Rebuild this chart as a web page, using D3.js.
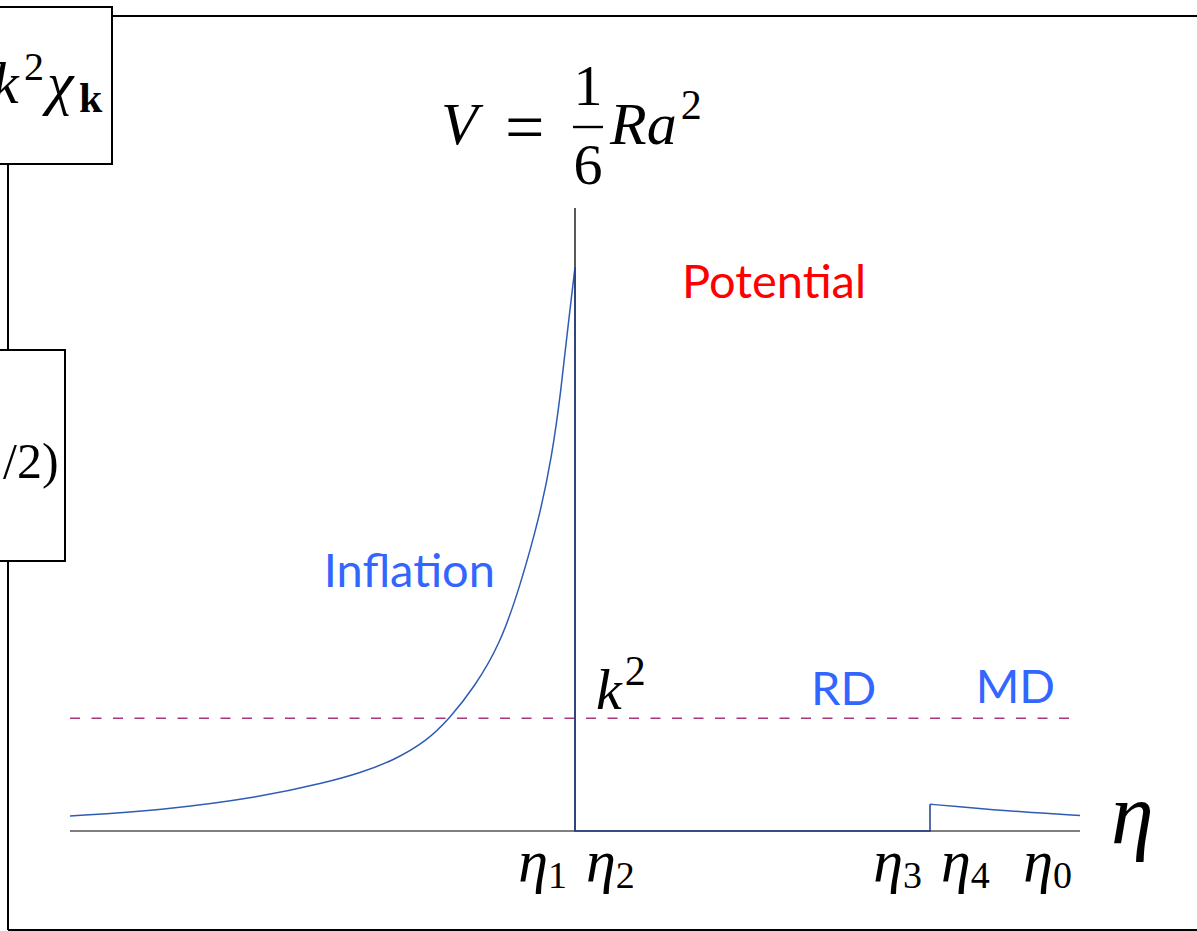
<!DOCTYPE html>
<html>
<head>
<meta charset="utf-8">
<script src="https://cdn.jsdelivr.net/npm/d3@7"></script>
<style>
  html, body { margin: 0; padding: 0; background: #fff; }
  svg { display: block; }
</style>
</head>
<body>
<svg id="chart" width="1197" height="931"></svg>
<script>
// Effective potential felt by the mode, through inflation, radiation (RD) and matter (MD) eras.
// Conformal time eta on the horizontal axis, potential on the vertical axis.

// Inflation branch: rises steeply towards eta_1
const etaInflation = [0, 8.9, 18.8, 25.4, 28.7, 32, 35.3, 37.6, 40, 42.6, 44.6, 46.5, 47.7, 48.6, 49.3, 50];
const potInflation = [2.4, 3.3, 5.4, 7.8, 9.3, 11.3, 14.4, 18.1, 23, 30, 39.5, 50.5, 60, 70.5, 81, 90.5];

// Radiation era: the potential vanishes between eta_2 and eta_3
const etaRadiation = [50, 50, 85.15, 85.15];
const potRadiation = [90.5, 0, 0, 4.3];

// Matter era: small decaying potential from eta_4 to eta_0
const etaMatter = [85.15, 88, 91.4, 95, 100];
const potMatter = [4.3, 3.9, 3.4, 3.0, 2.5];

// Wavenumber level k^2
const kSquared = 18.1;

// Axis extent and time markers
const etaDomain = [0, 100];
const potDomain = [0, 100];
const tickNames = ["1", "2", "3", "4", "0"];
const tickEta = [50, 50, 85.15, 85.15, 100];
const tickSide = ["left", "right", "left", "right", "left"];

// Era labels
const eraNames = ["Inflation", "RD", "MD"];
const eraEta = [33.6, 76.6, 93.6];
const eraPot = [39.2, 20.3, 20.5];

const svg = d3.select("#chart");
const x = d3.scaleLinear().domain(etaDomain).range([70, 1080]);
const y = d3.scaleLinear().domain(potDomain).range([831, 208]);

const ink = "#000";
const curveColor = "#2e5cb4";
const serif = "'Liberation Serif', 'DejaVu Serif', serif";
const sans = "Lato, 'Open Sans', sans-serif";

// ---- surrounding frame and side boxes ----
const frame = svg.append("g").attr("fill", "none").attr("stroke", ink).attr("stroke-width", 2);
frame.append("rect").attr("x", -20).attr("y", 7).attr("width", 132).attr("height", 157).attr("fill", "#fff");
frame.append("line").attr("x1", 112).attr("y1", 16).attr("x2", 1197).attr("y2", 16);
frame.append("line").attr("x1", 8).attr("y1", 164).attr("x2", 8).attr("y2", 350);
frame.append("rect").attr("x", -20).attr("y", 350).attr("width", 85).attr("height", 211).attr("fill", "#fff");
frame.append("line").attr("x1", 8).attr("y1", 561).attr("x2", 8).attr("y2", 930);
frame.append("line").attr("x1", 8).attr("y1", 930).attr("x2", 1197).attr("y2", 930);

// box contents: k^2 chi_k and /2)
const t1 = svg.append("g").attr("font-family", serif).attr("fill", ink);
t1.append("text").attr("x", -8).attr("y", 103).attr("font-size", 60).attr("font-style", "italic").text("k");
t1.append("text").attr("x", 24).attr("y", 80).attr("font-size", 40).text("2");
t1.append("text").attr("x", 47).attr("y", 103).attr("font-size", 60).attr("font-style", "italic").text("χ");
t1.append("text").attr("x", 79).attr("y", 112).attr("font-size", 42).attr("font-weight", "bold").text("k");

svg.append("text").attr("x", 3).attr("y", 478)
  .attr("font-family", serif).attr("font-size", 50).attr("fill", ink).text("/2)");

// ---- axes ----
svg.append("line")
  .attr("x1", x(etaDomain[0])).attr("x2", x(etaDomain[1]))
  .attr("y1", y(0)).attr("y2", y(0))
  .attr("stroke", "#7f7f7f").attr("stroke-width", 2);

svg.append("line")
  .attr("x1", x(tickEta[0])).attr("x2", x(tickEta[0]))
  .attr("y1", y(potDomain[1])).attr("y2", y(0))
  .attr("stroke", ink).attr("stroke-width", 1.3);

// k^2 level
svg.append("line")
  .attr("x1", x(etaDomain[0])).attr("x2", x(99.2))
  .attr("y1", y(kSquared)).attr("y2", y(kSquared))
  .attr("stroke", "#a8377a").attr("stroke-width", 1.3)
  .attr("stroke-dasharray", "10,11.5");

// ---- potential curve ----
const toPts = (xs, ys) => xs.map((v, i) => [x(v), y(ys[i])]);
const smooth = d3.line().curve(d3.curveBasis);
const straight = d3.line();

const curves = svg.append("g").attr("fill", "none").attr("stroke", curveColor)
  .attr("stroke-width", 1.5).attr("stroke-linejoin", "miter");
curves.append("path").attr("d", smooth(toPts(etaInflation, potInflation)));
curves.append("path").attr("d", straight(toPts(etaRadiation, potRadiation)))
  .attr("stroke", "#243f86");
curves.append("path").attr("d", smooth(toPts(etaMatter, potMatter)));

// ---- labels ----
// V = (1/6) R a^2
const vg = svg.append("g").attr("font-family", serif).attr("fill", ink);
vg.append("text").attr("x", 441).attr("y", 144).attr("font-size", 60).attr("font-style", "italic").text("V");
vg.append("text").attr("x", 505).attr("y", 151).attr("font-size", 70).text("=");
vg.append("text").attr("x", 588).attr("y", 105).attr("font-size", 58).attr("text-anchor", "middle").text("1");
vg.append("line").attr("x1", 573).attr("x2", 603).attr("y1", 127).attr("y2", 127)
  .attr("stroke", ink).attr("stroke-width", 2.4);
vg.append("text").attr("x", 588).attr("y", 184).attr("font-size", 58).attr("text-anchor", "middle").text("6");
const ra = vg.append("text").attr("x", 610).attr("y", 144).attr("font-size", 60).attr("font-style", "italic");
ra.append("tspan").text("Ra");
ra.append("tspan").attr("font-style", "normal").attr("font-size", 42).attr("dy", -25).attr("dx", 4).text("2");

// k^2 near the dashed level
const kl = svg.append("text").attr("x", 596).attr("y", 709)
  .attr("font-family", serif).attr("font-size", 58).attr("font-style", "italic").attr("fill", ink);
kl.append("tspan").text("k");
kl.append("tspan").attr("font-style", "normal").attr("font-size", 42).attr("dy", -24).attr("dx", 3).text("2");

// eta markers under the axis
tickNames.forEach((n, i) => {
  const px = x(tickEta[i]);
  const t = svg.append("text")
    .attr("x", tickSide[i] === "left" ? px - 8 : px + 11)
    .attr("y", 881)
    .attr("text-anchor", tickSide[i] === "left" ? "end" : "start")
    .attr("font-family", serif).attr("font-size", 60).attr("fill", ink);
  t.append("tspan").attr("font-style", "italic").text("η");
  t.append("tspan").attr("font-size", 38).attr("dy", 7).text(n);
});

// axis title
svg.append("text").attr("x", 1111).attr("y", 843)
  .attr("font-family", serif).attr("font-size", 86).attr("font-style", "italic").attr("fill", ink)
  .text("η");

// era labels
eraNames.forEach((n, i) => {
  svg.append("text").attr("x", x(eraEta[i])).attr("y", y(eraPot[i]))
    .attr("font-family", sans).attr("font-size", 47).attr("fill", "#3366ff")
    .attr("text-anchor", "middle").text(n);
});

svg.append("text").attr("x", 682).attr("y", 298)
  .attr("font-family", sans).attr("font-size", 47).attr("fill", "#ff0000")
  .text("Potential");
</script>
</body>
</html>
